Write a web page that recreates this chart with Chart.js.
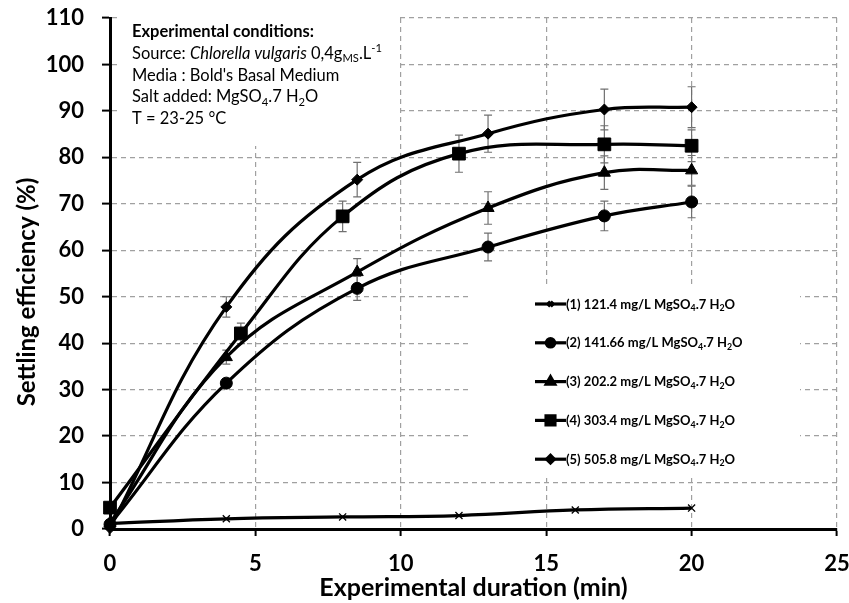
<!DOCTYPE html>
<html>
<head>
<meta charset="utf-8">
<script src="https://cdn.jsdelivr.net/npm/chart.js@4.4.1/dist/chart.umd.min.js"></script>
<style>
  html, body { margin: 0; padding: 0; background: #fff; }
  #wrap { width: 849px; height: 603px; }
</style>
</head>
<body>
<div id="wrap"><canvas id="settlingChart" width="849" height="603"></canvas></div>
<script>
// sampling times (min) of each run
const timeRun1 = [0, 4, 8, 12, 16, 20];
const timeRun2 = [0, 4, 8.5, 13, 17, 20];
const timeRun3 = [0, 4, 8.5, 13, 17, 20];
const timeRun4 = [0, 4.5, 8, 12, 17, 20];
const timeRun5 = [0, 4, 8.5, 13, 17, 20];

// settling efficiency (%)
const effRun1 = [1.2, 2.2, 2.6, 2.9, 4.1, 4.5];
const effRun2 = [1.0, 31.4, 51.8, 60.7, 67.4, 70.4];
const effRun3 = [1.3, 37.0, 55.3, 69.1, 76.7, 77.2];
const effRun4 = [4.6, 42.1, 67.3, 80.8, 82.8, 82.5];
const effRun5 = [0.2, 47.8, 75.2, 85.1, 90.3, 90.8];

// error bars (+/-)
const errRun1 = [0, 0, 0, 0, 0, 0];
const errRun2 = [0, 1.0, 2.6, 3.0, 3.2, 3.4];
const errRun3 = [0, 1.5, 2.9, 3.5, 3.6, 3.2];
const errRun4 = [0, 2.2, 3.3, 4.0, 4.0, 3.4];
const errRun5 = [0, 2.2, 3.7, 4.0, 4.4, 4.4];

const runLabels = [
  '(1) 121.4 mg/L MgSO_{4}.7 H_{2}O',
  '(2) 141.66 mg/L MgSO_{4}.7 H_{2}O',
  '(3) 202.2 mg/L MgSO_{4}.7 H_{2}O',
  '(4) 303.4 mg/L MgSO_{4}.7 H_{2}O',
  '(5) 505.8 mg/L MgSO_{4}.7 H_{2}O'
];
const runMarkers = ['crossRot', 'circle', 'triangle', 'rect', 'rectRot'];
const runMarkerSizes = [5, 6, 7, 9, 5.5];

const xMin = 0, xMax = 25, xStep = 5;
const yMin = 0, yMax = 110, yStep = 10;
const yTitle = 'Settling efficiency (%)';

const conditionLines = [
  'Experimental conditions:',
  'Source: *Chlorella vulgaris* 0,4g_{MS}.L^{-1}',
  'Media : Bold\'s Basal Medium',
  'Salt added: MgSO_{4}.7 H_{2}O',
  'T = 23-25 °C'
];

const FONT = 'Lato, "Open Sans", sans-serif';

function plain(s) {
  return s.replace(/[_^]\{([^}]*)\}/g, '$1').replace(/\*/g, '');
}

// draws text with *italic*, _{sub} and ^{sup} parts
function drawRich(ctx, x, y, str, size, weight) {
  const parts = str.split(/(\*[^*]+\*|_\{[^}]*\}|\^\{[^}]*\})/).filter(Boolean);
  parts.forEach(function(p) {
    let text = p, style = '', s = size, dy = 0;
    if (p[0] === '*') { text = p.slice(1, -1); style = 'italic '; }
    else if (p.indexOf('_{') === 0) { text = p.slice(2, -1); s = size * 0.68; dy = size * 0.2; }
    else if (p.indexOf('^{') === 0) { text = p.slice(2, -1); s = size * 0.68; dy = -size * 0.4; }
    ctx.font = style + weight + ' ' + s + 'px ' + FONT;
    ctx.fillText(text, x, y + dy);
    x += ctx.measureText(text).width;
  });
}

function toPoints(xs, ys) {
  return xs.map(function(x, i) { return { x: x, y: ys[i] }; });
}

const runs = [
  { t: timeRun1, v: effRun1, e: errRun1 },
  { t: timeRun2, v: effRun2, e: errRun2 },
  { t: timeRun3, v: effRun3, e: errRun3 },
  { t: timeRun4, v: effRun4, e: errRun4 },
  { t: timeRun5, v: effRun5, e: errRun5 }
];

const datasets = runs.map(function(r, i) {
  return {
    label: plain(runLabels[i]),
    data: toPoints(r.t, r.v),
    errors: r.e,
    showLine: true,
    borderColor: '#000',
    borderWidth: 3.2,
    tension: 0.4,
    pointStyle: runMarkers[i],
    pointRadius: runMarkerSizes[i],
    pointBackgroundColor: i === 0 ? 'rgba(0,0,0,0)' : '#000',
    pointBorderColor: '#000',
    pointBorderWidth: i === 0 ? 1.3 : 1,
    clip: false
  };
});

const errorBars = {
  id: 'errorBars',
  beforeDatasetsDraw: function(chart) {
    const ctx = chart.ctx, xs = chart.scales.x, ys = chart.scales.y;
    ctx.save();
    ctx.strokeStyle = '#707070';
    ctx.lineWidth = 1.2;
    chart.data.datasets.forEach(function(ds) {
      ds.data.forEach(function(p, i) {
        const e = ds.errors[i];
        if (!e) return;
        const px = xs.getPixelForValue(p.x);
        const top = ys.getPixelForValue(p.y + e);
        const bot = ys.getPixelForValue(p.y - e);
        ctx.beginPath();
        ctx.moveTo(px, top); ctx.lineTo(px, bot);
        ctx.moveTo(px - 4, top); ctx.lineTo(px + 4, top);
        ctx.moveTo(px - 4, bot); ctx.lineTo(px + 4, bot);
        ctx.stroke();
      });
    });
    ctx.restore();
  }
};

const notes = {
  id: 'notes',
  beforeDatasetsDraw: function(chart) {
    const ctx = chart.ctx;
    ctx.save();
    // white boxes hide the grid under the notes and the legend
    ctx.fillStyle = '#fff';
    ctx.fillRect(118, 12, 280, 134);
    ctx.fillRect(470, 288, 330, 190);

    ctx.fillStyle = '#000';
    ctx.textBaseline = 'alphabetic';
    conditionLines.forEach(function(line, i) {
      drawRich(ctx, 132, 37 + i * 21.8, line, 16.5, i === 0 ? 'bold' : 'normal');
    });

    // y axis title, sits a little below the middle of the axis
    ctx.save();
    ctx.translate(27, 292);
    ctx.rotate(-Math.PI / 2);
    ctx.textAlign = 'center';
    ctx.textBaseline = 'middle';
    ctx.font = 'bold 24px ' + FONT;
    ctx.fillText(yTitle, 0, 0);
    ctx.restore();

    // legend
    chart.data.datasets.forEach(function(ds, i) {
      const cy = 304 + i * 38.8;
      ctx.strokeStyle = '#000';
      ctx.lineWidth = 3.2;
      ctx.beginPath();
      ctx.moveTo(535, cy); ctx.lineTo(566, cy);
      ctx.stroke();
      ctx.fillStyle = '#000';
      Chart.helpers.drawPoint(ctx, {
        pointStyle: ds.pointStyle,
        radius: ds.pointRadius * 0.7,
        rotation: 0,
        borderWidth: ds.pointBorderWidth
      }, 550.5, cy);
      ctx.fillStyle = '#000';
      drawRich(ctx, 566, cy + 4.5, runLabels[i], 13, 'bold');
    });
    ctx.restore();
  }
};

new Chart(document.getElementById('settlingChart').getContext('2d'), {
  type: 'scatter',
  data: { datasets: datasets },
  options: {
    responsive: false,
    animation: false,
    devicePixelRatio: 1,
    layout: { padding: { top: 18, right: 12, left: 0, bottom: 0 } },
    plugins: {
      legend: { display: false },
      tooltip: { enabled: false }
    },
    scales: {
      x: {
        type: 'linear',
        min: xMin,
        max: xMax,
        afterFit: function(scale) {
          scale.height = 74;
          scale.paddingLeft = 0;
          scale.paddingRight = 0;
        },
        ticks: {
          stepSize: xStep,
          color: '#000',
          padding: 15,
          font: { family: FONT, size: 22, weight: 'bold' }
        },
        grid: {
          color: '#a0a0a0',
          lineWidth: 1.2,
          tickLength: 7,
          tickColor: '#000',
          tickWidth: 2,
          tickBorderDash: []
        },
        border: { display: true, color: '#000', width: 3, dash: [5, 4] },
        title: {
          display: true,
          text: 'Experimental duration (min)',
          color: '#000',
          padding: { top: 0, bottom: 0 },
          font: { family: FONT, size: 25, weight: 'bold' }
        }
      },
      y: {
        min: yMin,
        max: yMax,
        afterFit: function(scale) {
          scale.width = 110;
          scale.paddingTop = 0;
          scale.paddingBottom = 0;
        },
        ticks: {
          stepSize: yStep,
          color: '#000',
          padding: 18,
          font: { family: FONT, size: 22, weight: 'bold' }
        },
        grid: {
          color: '#a0a0a0',
          lineWidth: 1.2,
          tickLength: 8,
          tickColor: '#000',
          tickWidth: 2,
          tickBorderDash: []
        },
        border: { display: true, color: '#000', width: 3, dash: [5, 4] },
        title: { display: false }
      }
    }
  },
  plugins: [errorBars, notes]
});
</script>
</body>
</html>
